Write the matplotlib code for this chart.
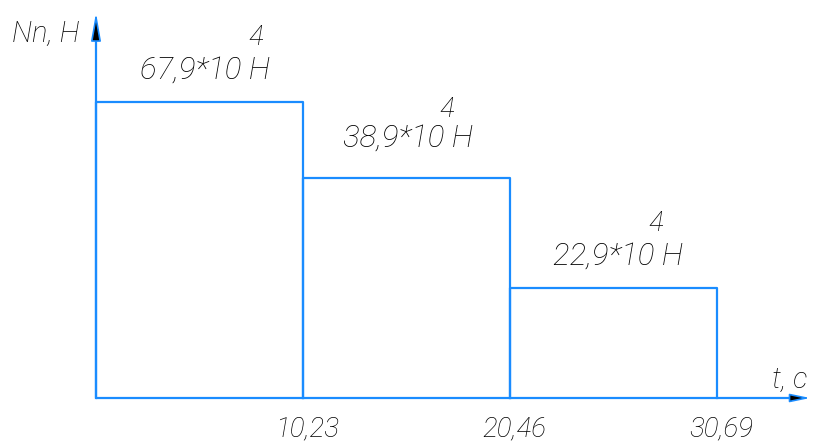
import matplotlib.pyplot as plt
from matplotlib import font_manager

# time boundaries of the steps, s
t_edges = [0.0, 10.23, 20.46, 30.69]
tick_labels = ["10,23", "20,46", "30,69"]

# force value printed on each step (x 10^4 N)
force_labels = ["67,9", "38,9", "22,9"]
# step heights as drawn (the sketch is not to scale), same units as the first label
drawn_height = [67.9, 50.5, 25.2]

BLUE = "#1a8cff"

names = {f.name for f in font_manager.fontManager.ttflist}
family = "Roboto" if "Roboto" in names else "DejaVu Sans"
txt = dict(family=family, style="italic", weight="light", color="black")

fig = plt.figure(figsize=(8.18, 4.42), dpi=100)
ax = fig.add_axes([0, 0, 1, 1])
px_x = 621 / 30.69
px_y = 296 / 67.9
ax.set_xlim(-96 / px_x, (818 - 96) / px_x)
ax.set_ylim(-44 / px_y, 398 / px_y)
ax.axis("off")

# axes with arrows
ax.plot([0, 0], [0, 84], color=BLUE, lw=1.6, solid_capstyle="butt")
ax.plot([0, 34.6], [0, 0], color=BLUE, lw=1.6, solid_capstyle="butt")
ax.annotate("", xy=(0, 88.4), xytext=(0, 83.3),
            arrowprops=dict(arrowstyle="-|>,head_length=1.7,head_width=0.3",
                            fc="black", ec=BLUE, lw=1.2, shrinkA=0, shrinkB=0))
ax.annotate("", xy=(35.3, 0), xytext=(34.3, 0),
            arrowprops=dict(arrowstyle="-|>,head_length=1.2,head_width=0.25",
                            fc="black", ec=BLUE, lw=1.2, shrinkA=0, shrinkB=0))

# step diagram
for i, h in enumerate(drawn_height):
    t0, t1 = t_edges[i], t_edges[i + 1]
    ax.plot([t0, t0, t1, t1], [0, h, h, 0], color=BLUE, lw=1.6)

# tick labels under the time axis
for t, lab in zip(t_edges[1:], tick_labels):
    ax.text(t + 0.2, -7.1, lab, ha="center", va="center", fontsize=20, **txt)

# force labels above each step: (dx text, dy text, x of exponent, dy exponent)
offsets = [(2.17, 5.4, 7.9, 7.6), (1.98, 7.1, 17.35, 6.8), (2.13, 5.3, 27.68, 7.8)]
for i, (lab, h) in enumerate(zip(force_labels, drawn_height)):
    dx, dy, ex, edy = offsets[i]
    x = t_edges[i] + dx
    y = h + dy
    ax.text(x, y, lab + "*10 H", ha="left", va="baseline", fontsize=22.5, **txt)
    ax.text(ex, y + edy, "4", ha="center", va="baseline", fontsize=20, **txt)

ax.text(-4.15, 81.6, "Nn, H", ha="left", va="baseline", fontsize=21, **txt)
ax.text(33.4, 2.3, "t, c", ha="left", va="baseline", fontsize=21, **txt)

fig.savefig("out.png", dpi=100)
